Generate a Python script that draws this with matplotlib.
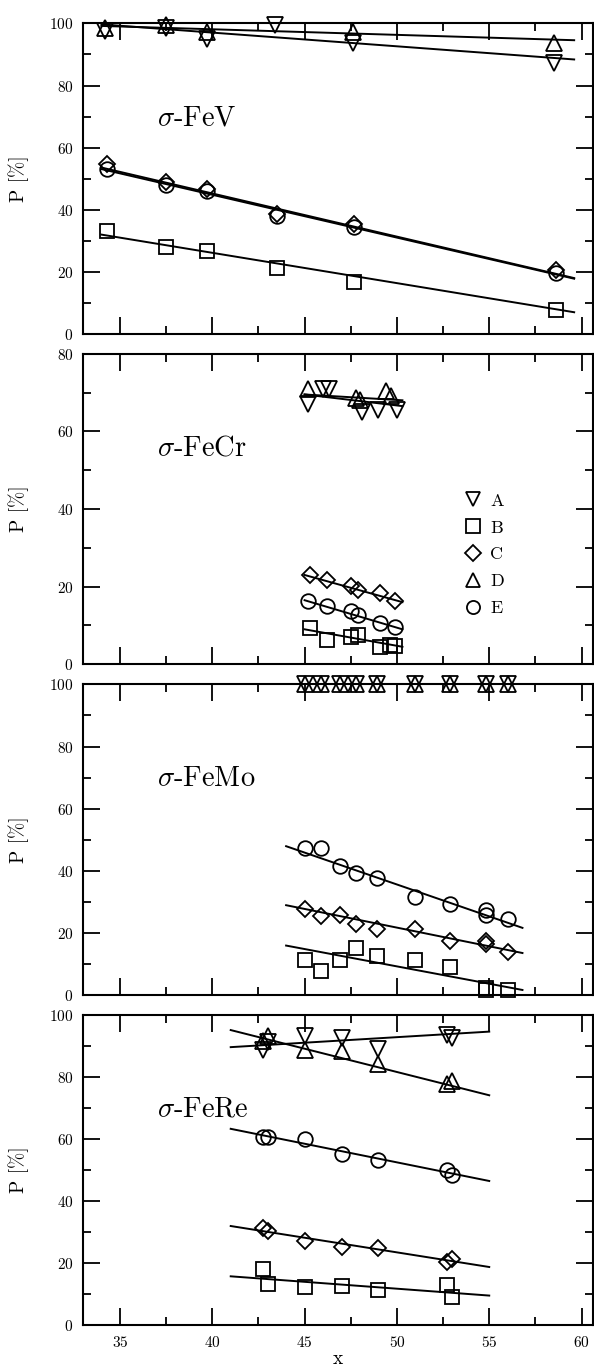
import matplotlib
matplotlib.use("Agg")
import matplotlib.pyplot as plt
from matplotlib.ticker import MultipleLocator

plt.rcParams['font.family'] = 'serif'
plt.rcParams['font.serif'] = ['cmr10']
plt.rcParams['mathtext.fontset'] = 'cm'
plt.rcParams['axes.formatter.use_mathtext'] = True

# ---- sigma-FeV ----
fev_x = [34.3, 37.5, 39.7, 43.5, 47.7, 58.6]
fev_A_x = [34.2, 37.5, 39.7, 43.4, 47.6, 58.5]
fev_A = [97.5, 98.5, 95.0, 99.6, 93.7, 87.3]
fev_D_x = [34.2, 37.5, 39.7, 47.6, 58.5]
fev_D = [98.5, 99.5, 97.4, 97.4, 93.7]
fev_B = [33.3, 28.0, 26.7, 21.3, 16.8, 7.7]
fev_C = [54.7, 48.8, 46.7, 38.7, 35.3, 20.5]
fev_E = [53.0, 48.0, 46.0, 38.0, 34.5, 19.5]
fev_fit_x = [34.0, 59.6]
fev_fit_A = [99.7, 88.4]
fev_fit_B = [32.0, 7.0]
fev_fit_C = [53.6, 18.0]
fev_fit_D = [99.2, 94.6]
fev_fit_E = [53.1, 17.8]

# ---- sigma-FeCr ----
fecr_A_x = [45.2, 46.0, 46.3, 48.1, 49.0, 50.0]
fecr_A = [67.0, 71.0, 71.0, 65.0, 65.5, 65.5]
fecr_D_x = [45.2, 47.8, 48.0, 49.4, 49.7]
fecr_D = [71.0, 68.5, 68.0, 70.5, 69.0]
fecr_C_x = [45.3, 46.2, 47.5, 47.9, 49.1, 49.9]
fecr_C = [23.0, 21.6, 20.2, 19.2, 18.3, 16.2]
fecr_E_x = [45.2, 46.2, 47.5, 47.9, 49.1, 49.9]
fecr_E = [16.2, 14.9, 13.6, 12.7, 10.6, 9.7]
fecr_B_x = [45.3, 46.2, 47.5, 47.9, 49.1, 49.6, 49.9]
fecr_B = [9.3, 6.3, 7.1, 7.6, 4.5, 5.0, 4.7]
fecr_fit_x = [45.0, 50.3]
fecr_fit_A = [69.5, 66.5]
fecr_fit_B = [9.0, 4.5]
fecr_fit_C = [23.0, 16.0]
fecr_fit_D = [69.5, 68.0]
fecr_fit_E = [16.5, 9.0]

# ---- sigma-FeMo ----
femo_AD_x = [45.0, 45.9, 46.9, 47.8, 48.9, 51.0, 52.85, 54.85, 56.0]
femo_A = [100, 100, 100, 100, 100, 100, 100, 100, 100]
femo_D = [100, 100, 100, 100, 100, 100, 100, 100, 100]
femo_x = [45.0, 45.9, 46.9, 47.8, 48.9, 51.0, 52.85, 54.85, 54.85, 56.0]
femo_E = [47.4, 47.4, 41.4, 39.2, 37.8, 31.6, 29.2, 25.9, 27.3, 24.3]
femo_C = [27.6, 25.4, 25.7, 22.7, 21.3, 21.1, 17.3, 16.5, 17.5, 13.7]
femo_B = [11.4, 7.6, 11.4, 15.1, 12.6, 11.4, 8.9, 1.5, 2.2, 1.6]
femo_fit_x = [44.0, 56.8]
femo_fit_A = [100, 100]
femo_fit_B = [15.9, 1.6]
femo_fit_C = [28.9, 13.5]
femo_fit_D = [100, 100]
femo_fit_E = [47.9, 21.6]

# ---- sigma-FeRe ----
fere_x = [42.75, 43.0, 45.0, 47.0, 49.0, 52.7, 53.0]
fere_A = [88.5, 91.0, 93.2, 92.5, 88.8, 93.5, 92.5]
fere_D = [91.5, 93.0, 88.6, 88.1, 84.2, 77.5, 78.5]
fere_E = [60.6, 60.6, 59.8, 55.0, 53.1, 49.8, 48.2]
fere_C = [31.4, 30.3, 27.1, 25.3, 24.8, 20.4, 21.4]
fere_B = [17.9, 13.3, 12.2, 12.7, 11.4, 13.0, 9.2]
fere_fit_x = [41.0, 55.0]
fere_fit_A = [89.5, 94.5]
fere_fit_B = [15.7, 9.5]
fere_fit_C = [31.9, 18.7]
fere_fit_D = [95.0, 74.0]
fere_fit_E = [63.2, 46.4]

labels = ['A', 'B', 'C', 'D', 'E']
markers = {'A': 'v', 'B': 's', 'C': 'D', 'D': '^', 'E': 'o'}
msizes = {'A': 11, 'B': 10.5, 'C': 8.5, 'D': 11, 'E': 10.5}

panels = [
    (r'$\sigma$-FeV', 100, {
        'A': (fev_A_x, fev_A), 'B': (fev_x, fev_B), 'C': (fev_x, fev_C),
        'D': (fev_D_x, fev_D), 'E': (fev_x, fev_E)},
     fev_fit_x, {'A': fev_fit_A, 'B': fev_fit_B, 'C': fev_fit_C, 'D': fev_fit_D, 'E': fev_fit_E}),
    (r'$\sigma$-FeCr', 80, {
        'A': (fecr_A_x, fecr_A), 'B': (fecr_B_x, fecr_B), 'C': (fecr_C_x, fecr_C),
        'D': (fecr_D_x, fecr_D), 'E': (fecr_E_x, fecr_E)},
     fecr_fit_x, {'A': fecr_fit_A, 'B': fecr_fit_B, 'C': fecr_fit_C, 'D': fecr_fit_D, 'E': fecr_fit_E}),
    (r'$\sigma$-FeMo', 100, {
        'A': (femo_AD_x, femo_A), 'B': (femo_x, femo_B), 'C': (femo_x, femo_C),
        'D': (femo_AD_x, femo_D), 'E': (femo_x, femo_E)},
     femo_fit_x, {'A': femo_fit_A, 'B': femo_fit_B, 'C': femo_fit_C, 'D': femo_fit_D, 'E': femo_fit_E}),
    (r'$\sigma$-FeRe', 100, {
        'A': (fere_x, fere_A), 'B': (fere_x, fere_B), 'C': (fere_x, fere_C),
        'D': (fere_x, fere_D), 'E': (fere_x, fere_E)},
     fere_fit_x, {'A': fere_fit_A, 'B': fere_fit_B, 'C': fere_fit_C, 'D': fere_fit_D, 'E': fere_fit_E}),
]

fig = plt.figure(figsize=(5.94, 13.71), dpi=100)
bottoms = [0.7564, 0.5155, 0.2743, 0.0335]
height = 0.2265

for i, (title, ymax, series, fit_x, fits) in enumerate(panels):
    ax = fig.add_axes([0.1397, bottoms[i], 0.858, height])
    handles = []
    for lab in labels:
        ax.plot(fit_x, fits[lab], color='k', lw=1.4, zorder=2)
    for lab in labels:
        xs, ys = series[lab]
        h, = ax.plot(xs, ys, ls='none', marker=markers[lab], ms=msizes[lab],
                     mfc='none', mec='k', mew=1.3, clip_on=False, zorder=3, label=lab)
        handles.append(h)
    ax.set_xlim(33, 60.6)
    ax.set_ylim(0, ymax)
    ax.xaxis.set_major_locator(MultipleLocator(5))
    ax.xaxis.set_minor_locator(MultipleLocator(2.5))
    ax.yaxis.set_major_locator(MultipleLocator(20))
    ax.yaxis.set_minor_locator(MultipleLocator(10))
    ax.tick_params(which='both', direction='in', top=True, right=True, width=1.3,
                   labelsize=11)
    ax.tick_params(which='major', length=12, pad=7)
    ax.tick_params(which='minor', length=6)
    for sp in ax.spines.values():
        sp.set_linewidth(1.5)
    ax.set_ylabel('P [%]', fontsize=14)
    ax.yaxis.set_label_coords(-0.105, 0.5)
    ax.text(0.145, 0.695, title, transform=ax.transAxes, fontsize=20.5,
            ha='left', va='center')
    if i < 3:
        ax.tick_params(labelbottom=False)
    else:
        ax.set_xlabel('x', fontsize=14, labelpad=0)
    if i == 1:
        ax.legend(handles=handles, loc='upper left', bbox_to_anchor=(0.73, 0.58),
                  frameon=False, fontsize=13, handlelength=1.0, handletextpad=0.45,
                  labelspacing=0.62, borderpad=0, markerscale=0.9)

fig.savefig('out.png', dpi=100)
